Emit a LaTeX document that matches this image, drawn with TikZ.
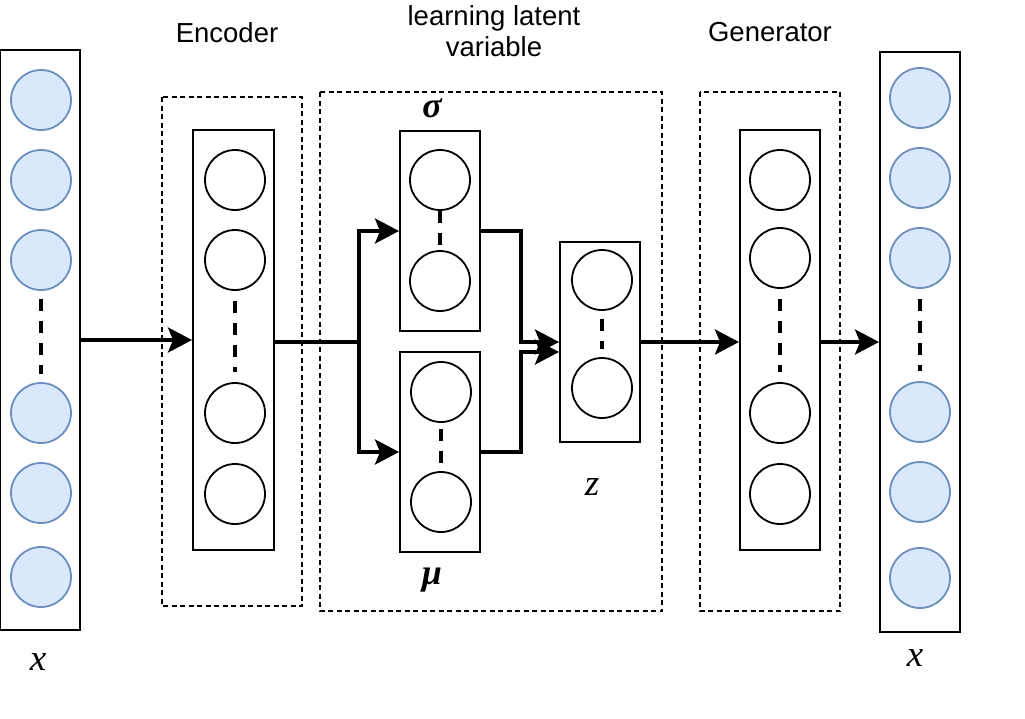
\documentclass[tikz,border=0pt]{standalone}
\usepackage{fontspec}
\setmainfont{Liberation Sans}
\newfontfamily\serifx{Liberation Serif}
\usetikzlibrary{arrows.meta,calc}
\definecolor{nfill}{HTML}{DAE8FC}
\definecolor{ndraw}{HTML}{6C8EBF}
\tikzset{
  layerbox/.style={draw, line width=2pt, rectangle, inner sep=0pt, minimum width=80pt},
  neuron/.style={draw, circle, line width=1.8pt, minimum size=60pt, inner sep=0pt},
  inneuron/.style={neuron, fill=nfill, draw=ndraw},
  groupbox/.style={draw, line width=1.4pt, dash pattern=on 5pt off 3.5pt},
  vdash/.style={line width=4pt, dash pattern=on 12pt off 10pt},
  sdash/.style={line width=3.5pt, dash pattern=on 12pt off 10pt},
  conn/.style={line width=3.5pt, -{Stealth[length=24pt, width=25pt, inset=5pt]}},
  lab/.style={font=\fontsize{27.5}{31}\selectfont, align=center},
  mlab/.style={font=\fontsize{37}{40}\selectfont\serifx\itshape},
  glab/.style={font=\fontsize{36}{40}\selectfont\serifx\bfseries\itshape},
}
\begin{document}
\begin{tikzpicture}[x=1pt,y=-1pt]
\useasboundingbox (0,0) rectangle (1025,718);
% group boxes
\draw[groupbox] (162,97) rectangle (302,606);
\draw[groupbox] (320,92) rectangle (662,611);
\draw[groupbox] (700,92) rectangle (840,611);
\node[lab] (encl) at (227,33) {Encoder};
\node[lab, text depth=0pt] (latl) at (494,31) {learning latent\\variable};
\node[lab] (genl) at (770,32) {Generator};
% input column
\node[layerbox, minimum height=580pt] (inbox) at (40,340) {};
\foreach \y [count=\i] in {100,180,260,413,493,577}
  \node[inneuron] (in\i) at (41,\y) {};
\draw[vdash] ($(in3.south)+(0,-8pt)$) -- ($(in4.north)+(0,8pt)$);
% encoder
\node[layerbox, minimum width=81pt, minimum height=420pt] (encbox) at (233.5,340) {};
\foreach \y [count=\i] in {180,260,413,494}
  \node[neuron] (en\i) at (235,\y) {};
\draw[vdash] ($(en2.south)+(0,-10pt)$) -- ($(en3.north)+(0,10pt)$);
% sigma
\node[layerbox, minimum height=200pt] (sigbox) at (440,231) {};
\node[neuron] (s1) at (440,180) {};
\node[neuron] (s2) at (440,281) {};
\draw[sdash] (s1.south) -- (s2.north);
\node[glab] (sigl) at (432,108) {σ};
% mu
\node[layerbox, minimum height=200pt] (mubox) at (440,452) {};
\node[neuron] (m1) at (441,392) {};
\node[neuron] (m2) at (441,502) {};
\draw[sdash] ($(m1.south)+(0,-6pt)$) -- (m2.north);
\node[glab] (mul) at (432,580) {μ};
% z
\node[layerbox, minimum height=200pt] (zbox) at (600,342) {};
\node[neuron] (z1) at (602,280) {};
\node[neuron] (z2) at (602,388) {};
\draw[sdash] ($(z1.south)+(0,-8pt)$) -- ($(z2.north)+(0,8pt)$);
\node[mlab] (zl) at (592,487) {z};
% generator
\node[layerbox, minimum height=420pt] (genbox) at (780,340) {};
\foreach \y [count=\i] in {180,258,413,494}
  \node[neuron] (ge\i) at (780,\y) {};
\draw[vdash] ($(ge2.south)+(0,-10pt)$) -- ($(ge3.north)+(0,10pt)$);
% output
\node[layerbox, minimum height=580pt] (outbox) at (920,342) {};
\foreach \y [count=\i] in {98,178,258,412,492,578}
  \node[inneuron] (out\i) at (920,\y) {};
\draw[vdash] ($(out3.south)+(0,-10pt)$) -- ($(out4.north)+(0,10pt)$);
% labels x
\node[mlab] (xl1) at (38,662) {x};
\node[mlab] (xl2) at (915,658) {x};
% connectors
\draw[conn] (inbox.east) -- (encbox.west);
\draw[conn] ([yshift=-2pt]encbox.east) -- ++(84,0) |- (sigbox.west);
\draw[conn] ([yshift=-2pt]encbox.east) -- ++(84,0) |- (mubox.west);
\draw[conn] (sigbox.east) -- ++(40,0) |- (zbox.west);
\draw[conn] (mubox.east) -- ++(40,0) |- ([yshift=-10pt]zbox.west);
\draw[conn] (zbox.east) -- (zbox.east -| genbox.west);
\draw[conn] (genbox.east |- zbox.east) -- (zbox.east -| outbox.west);
\end{tikzpicture}
\end{document}
